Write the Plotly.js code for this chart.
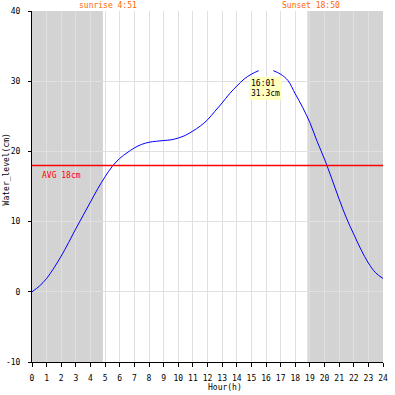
<!DOCTYPE html>
<html>
<head>
<meta charset="utf-8">
<script src="https://cdn.plot.ly/plotly-3.0.1.min.js"></script>
<style>html,body{margin:0;padding:0;background:#fff;}#chart{width:395px;height:395px;}</style>
</head>
<body>
<div id="chart"></div>
<script>
// Hours (half-hour steps) and water level (cm); null marks the gap at the peak label
const hours = [0,0.5,1,1.5,2,2.5,3,3.5,4,4.5,5,5.5,6,6.5,7,7.5,8,8.5,9,9.5,10,10.5,11,11.5,12,12.5,13,13.5,14,14.5,15,15.5,16,16.5,17,17.5,18,18.5,19,19.5,20,20.5,21,21.5,22,22.5,23,23.5,24];
const waterLevel = [0.0,0.8,1.9,3.4,5.1,7.0,9.0,10.9,12.8,14.7,16.4,17.9,19.0,19.8,20.5,21.0,21.3,21.45,21.55,21.65,21.9,22.3,22.9,23.6,24.5,25.7,26.9,28.2,29.3,30.3,31.0,31.5,null,31.5,31.0,30.1,28.2,26.3,24.1,21.4,18.9,16.1,13.2,10.5,8.2,6.0,4.1,2.7,1.9];
const avgLevel = 18;
const avgLabel = "AVG 18cm";
const sunriseHour = 4 + 51/60;
const sunsetHour = 18 + 50/60;
const sunriseLabel = "sunrise 4:51";
const sunsetLabel = "Sunset 18:50";
const peakLabel = "16:01<br>31.3cm";
const xTickVals = [0,1,2,3,4,5,6,7,8,9,10,11,12,13,14,15,16,17,18,19,20,21,22,23,24];
const yTickVals = [-10,0,10,20,30,40];
const xTitle = "Hour(h)";
const yTitle = "Water_level(cm)";

const mono = "DejaVu Sans Mono, monospace";

const traces = [
  {x: hours, y: waterLevel, type: 'scatter', mode: 'lines',
   line: {color: '#0000ff', width: 1, shape: 'spline', smoothing: 1},
   connectgaps: false, hoverinfo: 'skip'},
  {x: [xTickVals[0], xTickVals[xTickVals.length-1]], y: [avgLevel, avgLevel], type: 'scatter', mode: 'lines',
   line: {color: '#ff0000', width: 1.6}, hoverinfo: 'skip'}
];

const layout = {
  width: 395, height: 395,
  margin: {l: 32, r: 12, t: 11, b: 33, pad: 0},
  paper_bgcolor: '#ffffff', plot_bgcolor: '#ffffff',
  showlegend: false,
  font: {family: mono, size: 8, color: '#000'},
  xaxis: {
    range: [0, 24], tickvals: xTickVals, ticktext: xTickVals.map(String),
    showgrid: true, gridcolor: '#e0e0e0', gridwidth: 1,
    zeroline: false, showline: true, linecolor: '#000', linewidth: 1,
    ticks: 'outside', ticklen: 4, tickcolor: '#000', tickwidth: 1,
    tickfont: {family: mono, size: 8, color: '#000'}, ticklabelstandoff: 4
  },
  yaxis: {
    range: [-10, 40], tickvals: yTickVals, ticktext: yTickVals.map(String),
    showgrid: true, gridcolor: '#e0e0e0', gridwidth: 1,
    zeroline: false, showline: true, linecolor: '#000', linewidth: 1,
    ticks: 'outside', ticklen: 3, tickcolor: '#000', tickwidth: 1,
    tickfont: {family: mono, size: 8, color: '#000'}, ticklabelstandoff: 6
  },
  shapes: [
    {type: 'rect', xref: 'x', yref: 'paper', x0: 0, x1: sunriseHour, y0: 0, y1: 1,
     fillcolor: '#d3d3d3', line: {width: 0}, layer: 'below'},
    {type: 'rect', xref: 'x', yref: 'paper', x0: sunsetHour, x1: 24, y0: 0, y1: 1,
     fillcolor: '#d3d3d3', line: {width: 0}, layer: 'below'}
  ],
  annotations: [
    {text: sunriseLabel, xref: 'paper', yref: 'paper', x: 0.2165, y: 1.017,
     xanchor: 'center', yanchor: 'middle', showarrow: false,
     font: {family: mono, size: 8, color: '#ff6600'}},
    {text: sunsetLabel, xref: 'paper', yref: 'paper', x: 0.795, y: 1.017,
     xanchor: 'center', yanchor: 'middle', showarrow: false,
     font: {family: mono, size: 8, color: '#ff6600'}},
    {text: avgLabel, xref: 'paper', yref: 'paper', x: 0.023, y: 0.53,
     xanchor: 'left', yanchor: 'middle', showarrow: false,
     font: {family: mono, size: 8, color: '#ff0000'}},
    {text: peakLabel, xref: 'paper', yref: 'paper', x: 0.618, y: 0.812,
     xanchor: 'left', yanchor: 'top', showarrow: false, align: 'left',
     bgcolor: '#ffffc0', borderpad: 2, borderwidth: 0,
     font: {family: mono, size: 8, color: '#000'}},
    {text: xTitle, xref: 'paper', yref: 'paper', x: 0.497, y: -0.072,
     xanchor: 'left', yanchor: 'middle', showarrow: false,
     font: {family: mono, size: 8, color: '#000'}},
    {text: yTitle, xref: 'paper', yref: 'paper', x: -0.07, y: 0.55,
     xanchor: 'center', yanchor: 'middle', showarrow: false, textangle: -90,
     font: {family: mono, size: 8, color: '#000'}}
  ]
};

Plotly.newPlot('chart', traces, layout, {staticPlot: true, displayModeBar: false});
</script>
</body>
</html>
